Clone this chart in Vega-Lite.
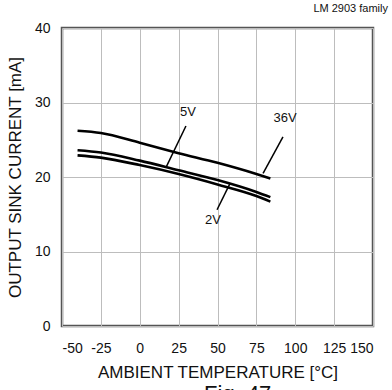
{
  "$schema": "https://vega.github.io/schema/vega-lite/v6.json",
  "width": 311,
  "height": 298,
  "autosize": "none",
  "padding": {"left": 62, "top": 28, "right": 19, "bottom": 64},
  "background": "white",
  "config": {
    "font": "Liberation Sans",
    "view": {"stroke": "#555555", "strokeWidth": 2.5},
    "axis": {"grid": true, "gridColor": "#bdbdbd", "gridWidth": 1, "domain": false, "ticks": false, "labelFontSize": 14, "labelColor": "#111", "labelOverlap": false, "titleFontSize": 17, "titleFontWeight": "normal", "titleColor": "#111"}
  },
  "datasets": {
    "curves": [
      {"s": "36V", "t": -40, "i": 26.2}, {"s": "36V", "t": -25, "i": 25.9}, {"s": "36V", "t": 0, "i": 24.6}, {"s": "36V", "t": 25, "i": 23.2}, {"s": "36V", "t": 50, "i": 21.9}, {"s": "36V", "t": 75, "i": 20.4}, {"s": "36V", "t": 84, "i": 19.8},
      {"s": "5V", "t": -40, "i": 23.6}, {"s": "5V", "t": -25, "i": 23.3}, {"s": "5V", "t": 0, "i": 22.2}, {"s": "5V", "t": 25, "i": 20.9}, {"s": "5V", "t": 50, "i": 19.6}, {"s": "5V", "t": 75, "i": 18.0}, {"s": "5V", "t": 84, "i": 17.3},
      {"s": "2V", "t": -40, "i": 22.9}, {"s": "2V", "t": -25, "i": 22.6}, {"s": "2V", "t": 0, "i": 21.6}, {"s": "2V", "t": 25, "i": 20.4}, {"s": "2V", "t": 50, "i": 19.0}, {"s": "2V", "t": 75, "i": 17.45}, {"s": "2V", "t": 84, "i": 16.7}
    ],
    "labels": [
      {"txt": "5V", "t": 31.0, "i": 28.7},
      {"txt": "36V", "t": 93.4, "i": 27.9},
      {"txt": "2V", "t": 47.1, "i": 14.2}
    ],
    "leaders": [
      {"t": 29.7, "i": 26.85, "t2": 16.9, "i2": 21.3},
      {"t": 92.1, "i": 25.4, "t2": 79.3, "i2": 20.5},
      {"t": 58.0, "i": 19.1, "t2": 49.7, "i2": 15.6}
    ]
  },
  "encoding": {
    "x": {"field": "t", "type": "quantitative", "scale": {"domain": [-50, 150], "nice": false}, "axis": {"values": [-50, -25, 0, 25, 50, 75, 100, 125, 150], "labelExpr": "replace(datum.label, '−', '-')", "title": "AMBIENT TEMPERATURE [°C]", "labelPadding": 15, "titlePadding": 9}},
    "y": {"field": "i", "type": "quantitative", "scale": {"domain": [0, 40], "nice": false}, "axis": {"values": [0, 10, 20, 30, 40], "title": "OUTPUT SINK CURRENT [mA]", "labelPadding": 12, "titlePadding": 10}}
  },
  "layer": [
    {
      "data": {"name": "curves"},
      "mark": {"type": "line", "color": "black", "strokeWidth": 2.6, "interpolate": "monotone"},
      "encoding": {
        "detail": {"field": "s"}
      }
    },
    {
      "data": {"name": "leaders"},
      "mark": {"type": "rule", "color": "black", "strokeWidth": 1.5},
      "encoding": {
        "x2": {"field": "t2"},
        "y2": {"field": "i2"}
      }
    },
    {
      "data": {"name": "labels"},
      "mark": {"type": "text", "fontSize": 13, "color": "#111"},
      "encoding": {
        "text": {"field": "txt"}
      }
    },
    {
      "data": {"values": [{"txt": "LM 2903 family", "t": 150, "i": 42.6}]},
      "mark": {"type": "text", "fontSize": 11, "align": "right", "dx": 15, "color": "#111", "clip": false},
      "encoding": {
        "text": {"field": "txt"}
      }
    },
    {
      "data": {"values": [{"txt": "Fig. 47", "t": 63, "i": -7.8}]},
      "mark": {"type": "text", "fontSize": 22, "baseline": "top", "align": "center", "color": "#111", "clip": false},
      "encoding": {
        "text": {"field": "txt"}
      }
    }
  ]
}
